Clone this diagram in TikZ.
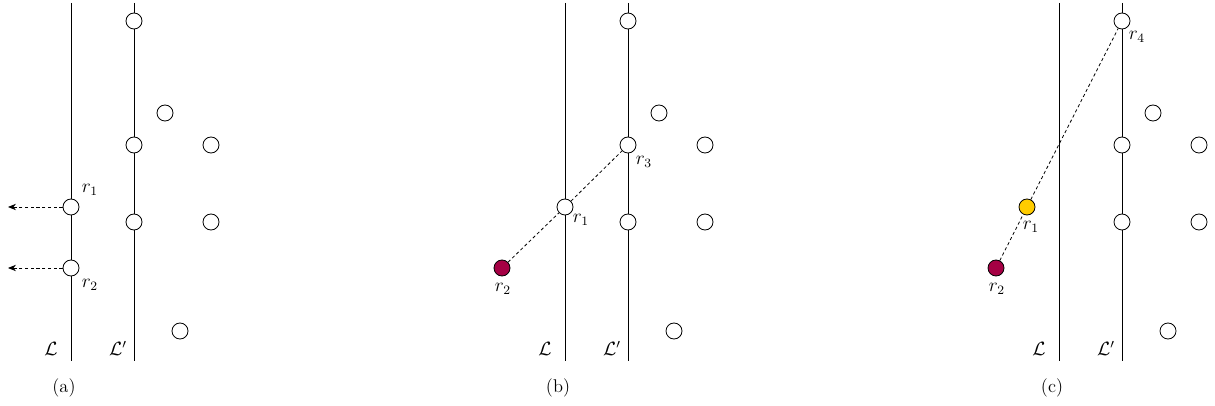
\documentclass[tikz,border=0pt]{standalone}
\usetikzlibrary{arrows.meta}
\definecolor{dotred}{RGB}{165,0,68}
\definecolor{dotyellow}{RGB}{255,204,0}
\tikzset{
  pt/.style={circle,draw,fill=white,minimum size=10pt,inner sep=0pt,line width=0.5pt},
  vline/.style={line width=0.6pt},
  link/.style={line width=0.5pt,dash pattern=on 2pt off 1.6pt},
  push/.style={line width=0.5pt,dash pattern=on 2pt off 1.6pt,-{Stealth[length=5pt,width=4pt]}},
  lbl/.style={inner sep=0pt},
  every node/.append style={font=\fontsize{11.5}{14}\selectfont}
}
\begin{document}
\begin{tikzpicture}[x=0.625pt,y=-0.625pt]
\useasboundingbox (0,0) rectangle (1215,406);
% common parts of the three panels
\foreach \o/\t in {0/a,494/b,988/c}{
  \coordinate (Ltop\t) at (71+\o,3);
  \coordinate (Lbot\t) at (71+\o,361);
  \coordinate (Kte\t) at (134+\o,3);
  \coordinate (Kbot\t) at (134+\o,361);
  \draw[vline] (Ltop\t) -- (Lbot\t);
  \draw[vline] (Kte\t) -- (Kbot\t);
  \node[pt] (q1\t) at (134+\o,21) {};
  \node[pt] (q2\t) at (134+\o,145) {};
  \node[pt] (q3\t) at (134+\o,222) {};
  \node[pt] (f1\t) at (165+\o,113) {};
  \node[pt] (f2\t) at (211+\o,145) {};
  \node[pt] (f3\t) at (211+\o,222) {};
  \node[pt] (f4\t) at (180+\o,331) {};
  \node[lbl,anchor=base] (ll\t) at (51+\o,355) {$\mathcal{L}$};
  \node[lbl,anchor=base] (lk\t) at (118+\o,355) {$\mathcal{L}'$};
  \node (cap\t) at (64+\o,388) {(\t)};
}
% panel (a)
\node[pt] (ra1) at (71,207) {};
\node[pt] (ra2) at (71,268) {};
\coordinate (ea1) at (8,207);
\coordinate (ea2) at (8,268);
\draw[push] (ra1) -- (ea1);
\draw[push] (ra2) -- (ea2);
\node[lbl] (la1) at (90,190) {$r_1$};
\node[lbl] (la2) at (90,285) {$r_2$};
% panel (b)
\node[pt] (rb1) at (565,207) {};
\node[pt,fill=dotred] (rb2) at (502,268) {};
\draw[link] (rb2) -- (rb1) -- (q2b);
\node[lbl] (lb3) at (644,162) {$r_3$};
\node[lbl] (lb1) at (581,220) {$r_1$};
\node[lbl] (lb2) at (503,289) {$r_2$};
% panel (c)
\node[pt,fill=dotyellow] (rc1) at (1027,207) {};
\node[pt,fill=dotred] (rc2) at (996,268) {};
\draw[link] (rc2) -- (rc1) -- (q1c);
\node[lbl] (lc4) at (1137,37) {$r_4$};
\node[lbl] (lc1) at (1031,227) {$r_1$};
\node[lbl] (lc2) at (997,289) {$r_2$};
\end{tikzpicture}
\end{document}
